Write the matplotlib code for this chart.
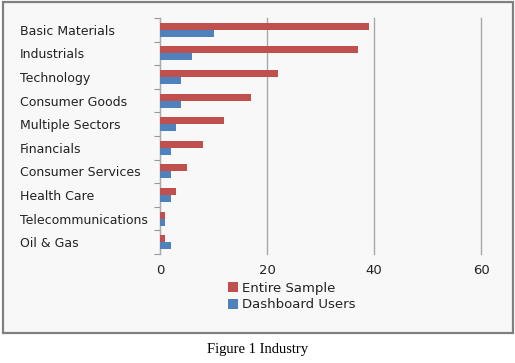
import matplotlib
matplotlib.use("Agg")
import matplotlib.pyplot as plt
from matplotlib.patches import Rectangle
import numpy as np

categories = ["Basic Materials", "Industrials", "Technology", "Consumer Goods",
              "Multiple Sectors", "Financials", "Consumer Services", "Health Care",
              "Telecommunications", "Oil & Gas"]
entire_sample = [39, 37, 22, 17, 12, 8, 5, 3, 1, 1]
dashboard_users = [10, 6, 4, 4, 3, 2, 2, 2, 1, 2]
x_ticks = [0, 20, 40, 60]

W, H = 515, 363
fig = plt.figure(figsize=(W/100, H/100), dpi=100)
fig.patch.set_facecolor("white")

# chart area box
fig.patches.append(Rectangle((3/W, 1 - 333/H), 510/W, 331/H, transform=fig.transFigure,
                             facecolor="#f8f8f8", edgecolor="#808080", linewidth=1.6, zorder=-5))

ax = fig.add_axes([160/W, 1 - 254/H, (481-160)/W, (254-18)/H])
ax.set_facecolor("#f8f8f8")
font = "DejaVu Sans"
red = "#c0504d"
blue = "#4f81bd"
n = len(categories)
y = np.arange(n)
h = 0.3
ax.barh(y - h/2, entire_sample, height=h, color=red, label="Entire Sample", zorder=3)
ax.barh(y + h/2, dashboard_users, height=h, color=blue, label="Dashboard Users", zorder=3)
ax.set_ylim(n - 0.5, -0.5)
ax.set_xlim(0, 60)
ax.set_xticks(x_ticks)
ax.set_xticklabels([str(t) for t in x_ticks], fontsize=9.5, family=font, color="#222222")
ax.set_yticks(np.arange(n + 1) - 0.5, minor=False)
ax.set_yticklabels([])
ax.set_yticks(y, minor=True)
ax.set_yticklabels(categories, minor=True, fontsize=9, family=font, color="#222222", ha="left")
ax.tick_params(axis="y", which="minor", length=0, pad=140 * 0.72)
ax.tick_params(axis="y", which="major", length=4, color="#999999", direction="out")
ax.tick_params(axis="x", length=0, pad=7)
for s in ["top", "right", "bottom"]:
    ax.spines[s].set_visible(False)
ax.spines["left"].set_color("#aaaaaa")
ax.xaxis.grid(True, color="#a8a8a8", linewidth=1.0, zorder=0)
for gl in ax.get_xgridlines():
    gl.set_clip_on(False)
ax.set_axisbelow(True)

leg = fig.legend(loc="upper left", bbox_to_anchor=(221/W, 1 - 275/H), frameon=False,
                 prop={"family": font, "size": 9.5}, handlelength=0.8, handleheight=0.8,
                 handletextpad=0.3, labelspacing=0.28, borderpad=0)
for t in leg.get_texts():
    t.set_color("#222222")

fig.text(258/W, 1 - 349/H, "Figure 1 Industry", ha="center", va="center",
         family="Liberation Serif", fontsize=10.5, color="black")

fig.savefig("out.png", dpi=100, facecolor=fig.get_facecolor())
